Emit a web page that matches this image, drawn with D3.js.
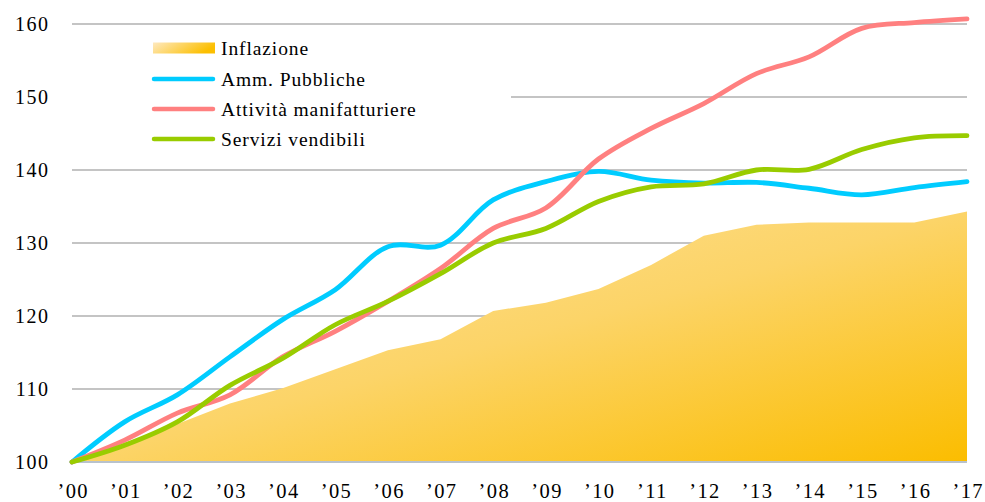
<!DOCTYPE html>
<html><head><meta charset="utf-8">
<script src="https://cdn.jsdelivr.net/npm/d3@7"></script>
<style>body{margin:0;background:#fff}svg{display:block}
svg text{font-family:"Liberation Serif","Times New Roman","DejaVu Serif",serif !important;}
</style>
</head><body>
<svg id="c" width="985" height="502"></svg>
<script>
const years = ["’00","’01","’02","’03","’04","’05","’06","’07","’08","’09","’10","’11","’12","’13","’14","’15","’16","’17"];
const inflazione = [100,102.6,105.2,108.0,110.1,112.7,115.3,116.8,120.7,121.8,123.7,127.0,131.0,132.5,132.8,132.8,132.8,134.3];
const ammPubbliche = [100,105.5,109.2,114.4,119.5,123.6,129.5,129.7,135.9,138.4,139.8,138.6,138.2,138.3,137.5,136.6,137.6,138.4];
const manifatturiere = [100,103.0,106.7,109.2,114.4,117.9,122.0,126.5,132.0,134.8,141.5,145.7,149.1,153.2,155.5,159.4,160.2,160.7];
const servizi = [100,102.3,105.5,110.5,114.2,118.8,122.0,125.8,130.0,132.0,135.7,137.7,138.1,140.0,140.1,142.8,144.4,144.7];
const yTicks = [100,110,120,130,140,150,160];
const legendLabels = ["Inflazione","Amm. Pubbliche","Attività manifatturiere","Servizi vendibili"];

const svg = d3.select("#c");
const x = d3.scalePoint().domain(years).range([72,967]);
const y = d3.scaleLinear().domain([100,160]).range([462,24]);

const defs = svg.append("defs");
const g1 = defs.append("linearGradient").attr("id","infl").attr("x1",0).attr("y1",0).attr("x2",1).attr("y2",1);
g1.append("stop").attr("offset","0%").attr("stop-color","#fde3a0");
g1.append("stop").attr("offset","50%").attr("stop-color","#fcd468");
g1.append("stop").attr("offset","100%").attr("stop-color","#fbbd00");
const g2 = defs.append("linearGradient").attr("id","leg").attr("x1",0).attr("y1",0).attr("x2",1).attr("y2",0.3);
g2.append("stop").attr("offset","0%").attr("stop-color","#fee9c0");
g2.append("stop").attr("offset","100%").attr("stop-color","#fcbf00");

// gridlines
svg.append("g").selectAll("line").data(yTicks.filter(d=>d>100)).join("line")
  .attr("x1",72).attr("x2",967).attr("y1",d=>y(d)).attr("y2",d=>y(d))
  .attr("stroke","#c4c4c4").attr("stroke-width",2);

// inflation area
svg.append("path").datum(inflazione)
  .attr("d", d3.area().x((d,i)=>x(years[i])).y0(y(100)).y1(d=>y(d)))
  .attr("fill","url(#infl)");

// baseline
svg.append("line").attr("x1",72).attr("x2",967).attr("y1",y(100)).attr("y2",y(100))
  .attr("stroke","#b8c2cc").attr("stroke-width",2);

// y axis labels
const yAxis = d3.axisLeft(y).tickValues(yTicks).tickSize(0).tickPadding(0);
const ya = svg.append("g").attr("transform","translate(49.5,0)").call(yAxis);
ya.attr("font-family",null).attr("font-size",20);
ya.select(".domain").remove();
ya.selectAll("text").attr("font-size",20).attr("letter-spacing",1.5).attr("fill","#000").attr("dy","0.33em");

// x axis labels
const xAxis = d3.axisBottom(x).tickSize(0).tickPadding(0);
const xa = svg.append("g").attr("transform","translate(0.7,483)").call(xAxis);
xa.attr("font-family",null).attr("font-size",20.5);
xa.select(".domain").remove();
xa.selectAll("text").attr("font-size",20.5).attr("letter-spacing",1.4).attr("fill","#000").attr("dy","0.71em");

// lines
const line = d3.line().x((d,i)=>x(years[i])).y(d=>y(d)).curve(d3.curveCatmullRom.alpha(0.5));
const series = [
  {v:ammPubbliche, c:"#00ccff"},
  {v:manifatturiere, c:"#ff8080"},
  {v:servizi, c:"#99cc00"}
];
// legend background (hides part of gridline)
svg.append("rect").attr("x",72).attr("y",34).attr("width",439).attr("height",120).attr("fill","#fff");

svg.append("g").selectAll("path").data(series).join("path")
  .attr("d",d=>line(d.v)).attr("fill","none").attr("stroke",d=>d.c)
  .attr("stroke-width",4.8).attr("stroke-linejoin","round").attr("stroke-linecap","round");

// legend
const lg = svg.append("g");
const ly = [48,79,109,139];
lg.append("rect").attr("x",153).attr("y",ly[0]-5.5).attr("width",62).attr("height",11).attr("fill","url(#leg)");
series.forEach((s,i)=>{
  lg.append("line").attr("x1",154).attr("x2",213).attr("y1",ly[i+1]).attr("y2",ly[i+1])
    .attr("stroke",s.c).attr("stroke-width",4.5).attr("stroke-linecap","round");
});
lg.selectAll("text").data(legendLabels).join("text")
  .attr("x",221).attr("y",(d,i)=>ly[i]).attr("dy","0.35em")
  .attr("font-size",19.5).attr("letter-spacing",0.9).attr("fill","#000").text(d=>d);
</script>
</body></html>
